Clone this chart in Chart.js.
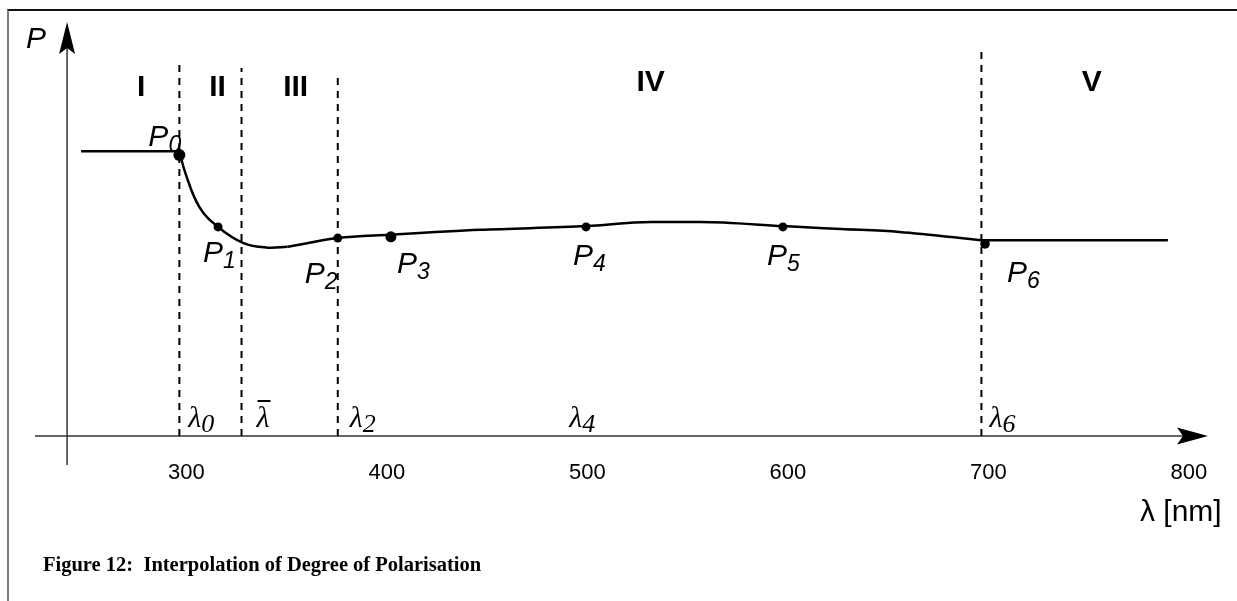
<!DOCTYPE html>
<html>
<head>
<meta charset="utf-8">
<script src="https://cdn.jsdelivr.net/npm/chart.js@4.4.1/dist/chart.umd.min.js"></script>
<style>
  html, body { margin: 0; padding: 0; background: #fff; }
  #wrap { position: relative; width: 1237px; height: 601px; overflow: hidden; }
  #frame { position: absolute; left: 7px; top: 9px; right: -4px; bottom: -4px;
           border-top: 2px solid #111; border-left: 2px solid #7c7c7c; }
  #chart { position: absolute; left: 0; top: 0; }
</style>
</head>
<body>
<div id="wrap">
  <div id="frame"></div>
  <canvas id="chart" width="1237" height="601"></canvas>
</div>
<script>
// wavelength (nm) and degree of polarisation (relative units)
const xRange = [228, 813];
const yRange = [0, 1];
const tickValues = [300, 400, 500, 600, 700, 800];
const yAxisAt = 244;
const yAxisBottom = -0.07;

// constant parts outside the measured range
const flatLeftX = [251, 300];
const flatLeftY = [0.688, 0.688];
const flatRightX = [700, 793];
const flatRightY = [0.473, 0.473];

// steep part P0 .. minimum
const dropX = [300, 303, 310, 319.3, 332, 344, 354];
const dropY = [0.688, 0.635, 0.553, 0.505, 0.466, 0.455, 0.457];

// slow part minimum .. P6
const curveX = [354, 379, 405, 450, 503, 535, 560, 601, 630, 659, 700];
const curveY = [0.457, 0.478, 0.486, 0.498, 0.507, 0.517, 0.517, 0.507, 0.500, 0.493, 0.473];

// sample points P0 .. P6
const dotX = [300, 319.3, 379, 405.5, 502.8, 601, 701.8];
const dotY = [0.679, 0.505, 0.478, 0.481, 0.505, 0.505, 0.464];

// region boundaries (dashed)
const boundX = [300, 331, 379, 700];
const boundTop = [0.901, 0.889, 0.865, 0.932];

// region names
const regionNames = ['I', 'II', 'III', 'IV', 'V'];
const regionX = [281, 319, 358, 535, 755];
const regionY = [0.821, 0.821, 0.821, 0.833, 0.833];

// wavelength markers
const lambdaSubs = ['0', '', '2', '4', '6'];
const lambdaX = [300, 331, 379, 490, 700];

const toXY = (xs, ys) => xs.map((v, i) => ({ x: v, y: ys[i] }));

const datasets = [
    { data: toXY(flatLeftX, flatLeftY), borderColor: '#000', borderWidth: 2.5, pointRadius: 0, showLine: true },
    { data: toXY(dropX, dropY), borderColor: '#000', borderWidth: 2.5, pointRadius: 0, showLine: true, tension: 0.4 },
    { data: toXY(curveX, curveY), borderColor: '#000', borderWidth: 2.5, pointRadius: 0, showLine: true, cubicInterpolationMode: 'monotone' },
    { data: toXY(flatRightX, flatRightY), borderColor: '#000', borderWidth: 2.5, pointRadius: 0, showLine: true }
];
boundX.forEach((bx, i) => {
    datasets.push({
        data: [{ x: bx, y: 0 }, { x: bx, y: boundTop[i] }],
        borderColor: '#000', borderWidth: 2, borderDash: [7, 6],
        pointRadius: 0, showLine: true
    });
});
datasets.push({
    data: toXY(dotX, dotY),
    backgroundColor: '#000', borderColor: '#000', borderWidth: 0,
    pointRadius: [6, 4.5, 4.5, 5.5, 4.5, 4.5, 4.8], showLine: false
});

// P label offsets from their dots (px)
const labelShift = [[-31, -9], [-15, 35], [-33, 45], [6, 36], [-13, 38], [-16, 38], [22, 38]];
const lambdaShift = [9, 15, 12, 9, 8];

function subText(ctx, main, sub, px, py, font, subFont, subDy) {
    ctx.font = font;
    ctx.fillText(main, px, py);
    const w = ctx.measureText(main).width;
    ctx.font = subFont;
    ctx.fillText(sub, px + w, py + subDy);
}

const drawing = {
    id: 'drawing',
    beforeDatasetsDraw(chart) {
        const { ctx, scales: { x, y } } = chart;
        const ax = x.getPixelForValue(yAxisAt);
        const ay = y.getPixelForValue(0);
        ctx.save();
        ctx.strokeStyle = '#333';
        ctx.fillStyle = '#000';
        ctx.lineWidth = 1.5;
        // x axis with arrow
        ctx.beginPath();
        ctx.moveTo(x.left, ay);
        ctx.lineTo(x.right - 25, ay);
        ctx.stroke();
        ctx.beginPath();
        ctx.moveTo(x.right, ay);
        ctx.lineTo(x.right - 31, ay - 8.5);
        ctx.lineTo(x.right - 25, ay);
        ctx.lineTo(x.right - 31, ay + 8.5);
        ctx.closePath();
        ctx.fill();
        // y axis with arrow
        ctx.beginPath();
        ctx.moveTo(ax, y.getPixelForValue(yAxisBottom));
        ctx.lineTo(ax, y.top + 26);
        ctx.stroke();
        ctx.beginPath();
        ctx.moveTo(ax, y.top);
        ctx.lineTo(ax - 8, y.top + 32);
        ctx.lineTo(ax, y.top + 26);
        ctx.lineTo(ax + 8, y.top + 32);
        ctx.closePath();
        ctx.fill();
        ctx.restore();
    },
    afterDraw(chart) {
        const { ctx, scales: { x, y } } = chart;
        ctx.save();
        ctx.fillStyle = '#000';
        ctx.textBaseline = 'alphabetic';

        // region names
        ctx.textAlign = 'center';
        ctx.font = 'bold 30px "Liberation Sans", Arial, sans-serif';
        regionNames.forEach((t, i) => {
            ctx.fillText(t, x.getPixelForValue(regionX[i]), y.getPixelForValue(regionY[i]));
        });

        ctx.textAlign = 'left';
        // point names
        dotX.forEach((v, i) => {
            const px = x.getPixelForValue(v) + labelShift[i][0];
            const py = y.getPixelForValue(dotY[i]) + labelShift[i][1];
            subText(ctx, 'P', String(i), px, py,
                'italic 30px "Liberation Sans", Arial, sans-serif',
                'italic 23px "Liberation Sans", Arial, sans-serif', 6);
        });

        // wavelength markers
        const base = y.getPixelForValue(0) - 9;
        lambdaX.forEach((v, i) => {
            const px = x.getPixelForValue(v) + lambdaShift[i];
            subText(ctx, '\u03bb', lambdaSubs[i], px, base,
                'italic 30px "Liberation Serif", "Times New Roman", serif',
                'italic 26px "Liberation Serif", "Times New Roman", serif', 5);
            if (lambdaSubs[i] === '') {
                ctx.font = 'italic 30px "Liberation Serif", "Times New Roman", serif';
                const w = ctx.measureText('\u03bb').width;
                ctx.fillRect(px + 1, base - 27, w, 2);
            }
        });

        // axis names
        ctx.font = 'italic 30px "Liberation Sans", Arial, sans-serif';
        ctx.fillText('P', 26, 48);
        ctx.font = '30px "Liberation Sans", Arial, sans-serif';
        ctx.fillText('\u03bb [nm]', 1140, 521);

        // caption
        ctx.font = 'bold 20.5px "Liberation Serif", "Times New Roman", serif';
        ctx.fillText('Figure 12:  Interpolation of Degree of Polarisation', 43, 571);
        ctx.restore();
    }
};

new Chart(document.getElementById('chart'), {
    type: 'scatter',
    data: { datasets },
    options: {
        responsive: false,
        animation: false,
        events: [],
        layout: { padding: { left: 35, right: 29, top: 22, bottom: 0 } },
        plugins: { legend: { display: false }, tooltip: { enabled: false } },
        scales: {
            x: {
                type: 'linear',
                min: xRange[0],
                max: xRange[1],
                grid: { display: false, drawTicks: false },
                border: { display: false },
                afterBuildTicks: (scale) => { scale.ticks = tickValues.map(v => ({ value: v })); },
                afterFit: (scale) => { scale.height = 165; },
                ticks: {
                    padding: 24,
                    labelOffset: 7,
                    color: '#000',
                    maxRotation: 0,
                    autoSkip: false,
                    font: { family: '"Liberation Sans", Arial, sans-serif', size: 22 }
                }
            },
            y: {
                type: 'linear',
                display: false,
                min: yRange[0],
                max: yRange[1]
            }
        }
    },
    plugins: [drawing]
});
</script>
</body>
</html>
